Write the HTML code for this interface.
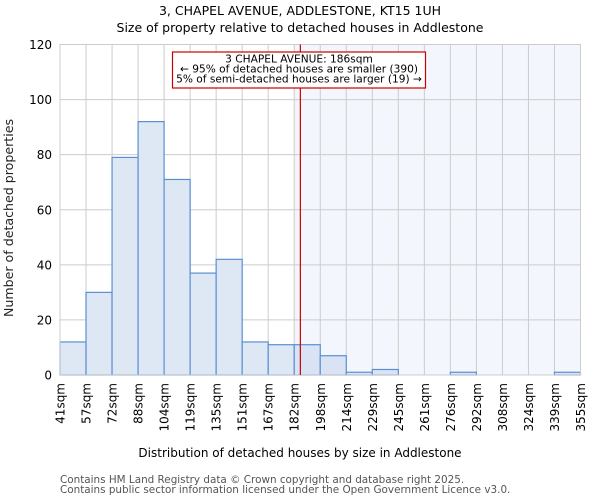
<!DOCTYPE html>
<html><head><meta charset="utf-8"><style>
body{margin:0;background:#fff;}
svg{display:block;font-family:"DejaVu Sans","Liberation Sans",sans-serif;}
</style></head><body>
<svg id="chart" width="600" height="500" viewBox="0 0 600 500">
<text x="300" y="15" text-anchor="middle" font-size="12.5" fill="#000">3, CHAPEL AVENUE, ADDLESTONE, KT15 1UH</text>
<text x="300" y="32" text-anchor="middle" font-size="12.5" fill="#000">Size of property relative to detached houses in Addlestone</text>
<g id="plot"></g>
<text x="300" y="457" text-anchor="middle" font-size="12" fill="#000">Distribution of detached houses by size in Addlestone</text>
<text transform="translate(13,218) rotate(-90)" text-anchor="middle" font-size="12.6" fill="#222">Number of detached properties</text>
<text x="60" y="483" font-size="10.4" fill="#555">Contains HM Land Registry data © Crown copyright and database right 2025.</text>
<text x="60" y="493" font-size="10.4" fill="#555">Contains public sector information licensed under the Open Government Licence v3.0.</text>
</svg>
<script>
const binLabels=["41sqm","57sqm","72sqm","88sqm","104sqm","119sqm","135sqm","151sqm","167sqm","182sqm","198sqm","214sqm","229sqm","245sqm","261sqm","276sqm","292sqm","308sqm","324sqm","339sqm","355sqm"];
const counts=[12,30,79,92,71,37,42,12,11,11,7,1,2,0,0,1,0,0,0,1];
const yTicks=[0,20,40,60,80,100,120];
const binStart=41, binEnd=355;
const markerValue=186;
const highlightFromBin=9;
const NS="http://www.w3.org/2000/svg";
const L=60,R=580.5,T=44.5,B=375;
const n=counts.length;
const xs=i=>L+(R-L)*i/n;
const xv=v=>L+(R-L)*(v-binStart)/(binEnd-binStart);
const ys=v=>B-(B-T)*v/120;
const g=document.getElementById('plot');
function mk(tag,attrs){const e=document.createElementNS(NS,tag);for(const k in attrs)e.setAttribute(k,attrs[k]);g.appendChild(e);return e;}
let e=mk('rect',{x:xs(highlightFromBin),y:T,width:R-xs(highlightFromBin),height:B-T,fill:'#f3f6fd'});


yTicks.forEach(t=>{
 let l=mk('line',{x1:L,x2:R,y1:ys(t),y2:ys(t),stroke:'#cccccc','stroke-width':1});
 
 
 let tx=mk('text',{x:L-8,y:ys(t)+4.5,'text-anchor':'end','font-size':'12',fill:'#000'});
 tx.textContent=t;
 
 
});
binLabels.forEach((lab,i)=>{
 let l=mk('line',{x1:xs(i),x2:xs(i),y1:T,y2:B,stroke:'#cccccc','stroke-width':1});
 
 
 let tx=mk('text',{transform:`translate(${xs(i)+4.5},383) rotate(-90)`,'text-anchor':'end','font-size':'12',fill:'#000'});
 tx.textContent=lab;
 
 
});
counts.forEach((c,i)=>{
 if(c<=0)return;
 let r=mk('rect',{x:xs(i),y:ys(c),width:xs(i+1)-xs(i),height:B-ys(c),fill:i>=highlightFromBin?'#d9e3f4':'#dee7f4',stroke:'#5a8fd4','stroke-width':1.2});
 
 
});
e=mk('rect',{x:L,y:T,width:R-L,height:B-T,fill:'none',stroke:'#cccccc','stroke-width':1});


e=mk('line',{x1:xv(markerValue),x2:xv(markerValue),y1:T,y2:B,stroke:'#cc0000','stroke-width':1.2});


e=mk('rect',{x:172.5,y:52,width:253,height:36,fill:'#fff',stroke:'#cc0000','stroke-width':1.2});


["3 CHAPEL AVENUE: 186sqm","← 95% of detached houses are smaller (390)","5% of semi-detached houses are larger (19) →"].forEach((s,i)=>{
 let tx=mk('text',{x:299,y:62.5+i*10,'text-anchor':'middle','font-size':'10.6',fill:'#000'});
 tx.textContent=s;
 
 
});
</script>
</body></html>
